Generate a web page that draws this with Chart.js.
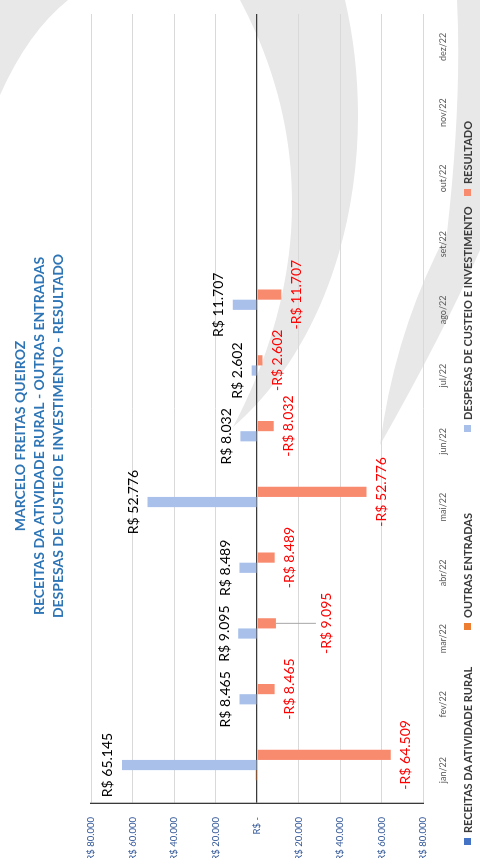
<!DOCTYPE html>
<html lang="pt-BR">
<head>
<meta charset="UTF-8">
<meta name="viewport" content="width=device-width, initial-scale=1.0">
<title>Receitas - Outras entradas - Despesas - Resultado</title>
<script src="https://cdn.jsdelivr.net/npm/chart.js"></script>
<style>
    body {
        margin: 0;
        width: 480px;
        height: 866px;
        overflow: hidden;
        background: #fff;
        font-family: Lato, sans-serif;
    }
    #marca { position: absolute; left: 0; top: 0; }
    /* o gráfico original está deitado: desenha em 866x480 e gira 90° */
    #painel {
        position: absolute;
        left: 0;
        top: 0;
        width: 866px;
        height: 480px;
        transform-origin: 0 0;
        transform: translateY(866px) rotate(-90deg);
    }
    #grafico { position: absolute; left: 0; top: 0; }
    #legenda {
        position: absolute;
        top: 461px;
        left: 0;
        width: 866px;
        height: 16px;
        font: bold 11px Lato, sans-serif;
        color: #3b3b3b;
        white-space: nowrap;
    }
    .item { position: absolute; top: 0; display: flex; align-items: center; }
    .cx { width: 7px; height: 7px; margin-right: 5px; display: inline-block; }
</style>
</head>
<body>
    <!-- marca d'água cinza ao fundo -->
    <svg id="marca" width="480" height="866">
        <path d="M0,0 L68,0 Q28,32 0,95 Z" fill="#e8e8e8"/>
        <path d="M233,427 C300,300 320,150 240,0 L345,0 C380,150 345,330 233,427 Z" fill="#e8e8e8"/>
        <path d="M457,0 L480,0 L480,250 Q445,330 380,445 Q395,330 447,233 Q462,100 457,0 Z" fill="#e8e8e8"/>
    </svg>

    <div id="painel">
        <canvas id="grafico" width="866" height="480"></canvas>
        <div id="legenda"></div>
    </div>

<script>
    // dados
    const meses = ['jan/22', 'fev/22', 'mar/22', 'abr/22', 'mai/22', 'jun/22',
                   'jul/22', 'ago/22', 'set/22', 'out/22', 'nov/22', 'dez/22'];
    const receitas = [0, 0, 0, 0, 0, 0, 0, 0, 0, 0, 0, 0];
    const outrasEntradas = [636, 0, 0, 0, 0, 0, 0, 0, 0, 0, 0, 0];
    const despesas = [65145, 8465, 9095, 8489, 52776, 8032, 2602, 11707, 0, 0, 0, 0];
    const resultado = [-64509, -8465, -9095, -8489, -52776, -8032, -2602, -11707, 0, 0, 0, 0];
    const series = ['RECEITAS DA ATIVIDADE RURAL', 'OUTRAS ENTRADAS',
                    'DESPESAS DE CUSTEIO E INVESTIMENTO', 'RESULTADO'];
    const titulo = ['MARCELO FREITAS QUEIROZ',
                    'RECEITAS DA ATIVIDADE RURAL - OUTRAS ENTRADAS',
                    'DESPESAS DE CUSTEIO E INVESTIMENTO - RESULTADO'];
    const cores = ['#4472C4', '#ED7D31', '#A9C1EA', '#F88A6E'];
    // onde começa cada item da legenda (antes de girar)
    const inicioLegenda = [21, 236, 434, 670];

    function milhar(v) {
        return String(Math.round(v)).replace(/\B(?=(\d{3})+(?!\d))/g, '.');
    }

    // rótulos de valor nas barras de despesas e resultado
    const rotulos = {
        id: 'rotulos',
        afterDatasetsDraw(chart) {
            const ctx = chart.ctx;
            ctx.save();
            ctx.font = '14px Lato';
            ctx.textAlign = 'center';
            ctx.textBaseline = 'middle';

            chart.getDatasetMeta(2).data.forEach((barra, i) => {
                if (!despesas[i]) return;
                ctx.fillStyle = '#000';
                ctx.fillText('R$ ' + milhar(despesas[i]), barra.x, barra.y - 14);
            });

            chart.getDatasetMeta(3).data.forEach((barra, i) => {
                if (!resultado[i]) return;
                let y = barra.y + 15;
                if (i === 2) {
                    // rótulo de março foi arrastado, com linha de chamada
                    ctx.strokeStyle = '#a6a6a6';
                    ctx.lineWidth = 1;
                    ctx.beginPath();
                    ctx.moveTo(barra.x, barra.y);
                    ctx.lineTo(barra.x, barra.y + 40);
                    ctx.stroke();
                    y = barra.y + 51;
                }
                ctx.fillStyle = '#FF0000';
                ctx.fillText('-R$ ' + milhar(-resultado[i]), barra.x, y);
            });
            ctx.restore();
        }
    };

    Chart.defaults.font.family = 'Lato';

    const valores = [receitas, outrasEntradas, despesas, resultado];
    const ctxGrafico = document.getElementById('grafico').getContext('2d');
    new Chart(ctxGrafico, {
        type: 'bar',
        data: {
            labels: meses,
            datasets: series.map((nome, k) => ({
                label: nome,
                data: valores[k],
                backgroundColor: cores[k],
                borderWidth: 0,
                categoryPercentage: 0.62,
                barPercentage: 1
            }))
        },
        options: {
            responsive: false,
            devicePixelRatio: 1,
            animation: false,
            layout: { padding: { left: 8, right: 14 } },
            plugins: {
                legend: { display: false },
                tooltip: { enabled: false },
                title: {
                    display: true,
                    text: titulo,
                    color: '#2E75B6',
                    font: { size: 14, weight: 'bold', lineHeight: 1.36 },
                    padding: { top: 11, bottom: 23 }
                }
            },
            scales: {
                x: {
                    grid: { display: false },
                    border: { display: false },
                    ticks: {
                        color: '#595959',
                        font: { size: 9 },
                        padding: 7,
                        maxRotation: 0,
                        autoSkip: false
                    },
                    afterFit(s) { s.height = 57; }
                },
                y: {
                    min: -80000,
                    max: 80000,
                    ticks: {
                        stepSize: 20000,
                        color: '#2F5597',
                        font: { size: 9.5 },
                        padding: 14,
                        callback: v => v === 0 ? 'R$ -' : 'R$ ' + milhar(Math.abs(v))
                    },
                    grid: {
                        drawTicks: false,
                        color: c => c.tick && c.tick.value === 0 ? '#3a3a3a' : '#d9d9d9',
                        lineWidth: c => c.tick && c.tick.value === 0 ? 1.3 : 1
                    },
                    border: { display: true, color: '#3a3a3a', width: 1.3 },
                    afterFit(s) { s.width = 55; }
                }
            }
        },
        plugins: [rotulos]
    });

    // legenda em HTML, embaixo do gráfico (fica à direita depois de girar)
    const legenda = document.getElementById('legenda');
    series.forEach((nome, k) => {
        const item = document.createElement('span');
        item.className = 'item';
        item.style.left = inicioLegenda[k] + 'px';
        item.innerHTML = '<span class="cx" style="background:' + cores[k] + '"></span>' + nome;
        legenda.appendChild(item);
    });
</script>
</body>
</html>
